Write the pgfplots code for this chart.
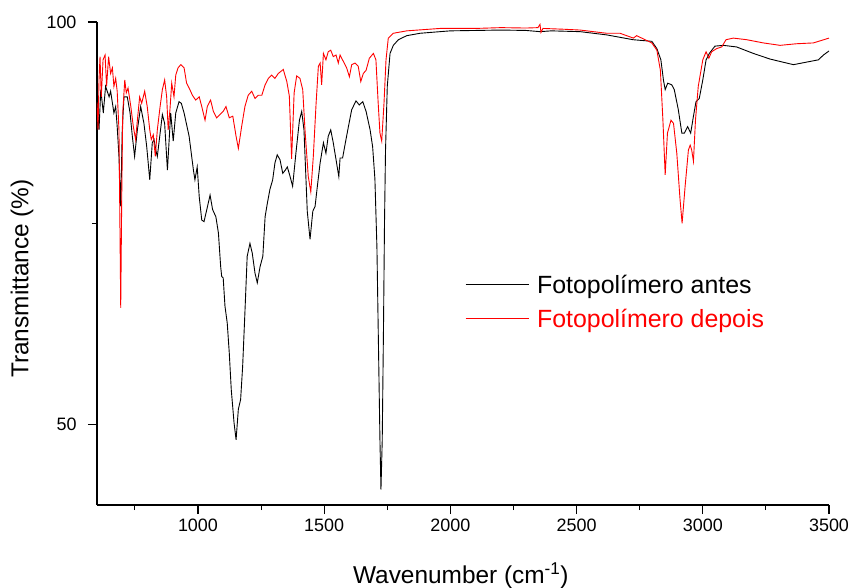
\documentclass[border=0pt]{standalone}
\usepackage{pgfplots}
\pgfplotsset{compat=1.18}
\usepackage{fontspec}
\setmainfont{Liberation Sans}
\begin{document}
\begin{tikzpicture}
\begin{axis}[
  scale only axis, width=732bp, height=483bp,
  xmin=600, xmax=3500, ymin=40, ymax=100,
  axis x line*=bottom, axis y line*=left,
  axis line style={line width=1.2bp},
  xtick={1000,1500,2000,2500,3000,3500},
  minor xtick={750,1250,1750,2250,2750,3250},
  ytick={50,100}, minor ytick={75},
  tick align=outside,
  major tick length=9bp, minor tick length=5bp,
  every tick/.style={line width=1.1bp, black},
  /pgf/number format/assume math mode=true,
  /pgf/number format/1000 sep={},
  tick label style={font=\fontsize{18}{20}\selectfont},
  yticklabel style={xshift=-8bp},
  xticklabel style={yshift=-1bp},
  xlabel={Wavenumber (cm\textsuperscript{-1})},
  ylabel={Transmittance (\%)},
  label style={font=\fontsize{24.5}{28}\selectfont},
  xlabel style={at={(axis description cs:0.497,-0.162)}, anchor=base},
  ylabel style={at={(axis description cs:-0.1025,0.469)}, anchor=center},
  legend style={at={(axis description cs:0.5027,0.481)}, anchor=north west, draw=none, fill=none,
    font=\fontsize{25}{29}\selectfont, row sep=10bp, inner sep=0pt},
  legend cell align=left,
  legend image code/.code={\draw[#1] (0bp,0bp) -- (63bp,0bp);},
]
\addplot[black, line width=0.9bp] coordinates {
(600,84.5)(603,88.7)(608,86.6)(615,91.6)(625,88.7)(634,92.0)(648,90.7)(654,91.4)(667,88.7)(674,89.5)(680,87.0)(687,83.3)(694,77.1)(700,86.6)(707,90.7)(720,90.7)(731,88.7)(740,85.8)(749,83.3)(760,86.6)(773,89.5)(786,87.4)(797,84.5)(809,80.4)(819,85.0)(826,85.4)(833,84.1)(839,83.3)(847,85.4)(859,88.5)(868,87.4)(879,81.6)(892,88.7)(902,85.2)(912,88.7)(925,90.1)(934,89.9)(945,88.7)(965,85.8)(982,81.6)(988,80.4)(997,82.0)(1005,78.3)(1015,75.4)(1024,75.2)(1035,76.7)(1048,78.5)(1058,76.7)(1071,75.8)(1081,73.8)(1090,69.6)(1094,68.4)(1100,68.2)(1107,64.7)(1116,62.6)(1124,58.9)(1132,54.3)(1143,50.2)(1151,48.1)(1160,51.9)(1169,53.1)(1177,57.2)(1186,63.9)(1195,70.9)(1206,72.5)(1215,71.3)(1226,68.8)(1235,67.6)(1246,69.6)(1257,70.9)(1266,75.8)(1275,77.5)(1285,79.2)(1296,80.4)(1305,82.5)(1314,83.5)(1325,82.9)(1336,81.2)(1346,81.6)(1354,82.0)(1365,80.8)(1375,79.6)(1388,83.7)(1402,87.8)(1411,88.9)(1420,86.6)(1428,80.4)(1433,76.5)(1444,73.0)(1455,76.5)(1464,77.1)(1473,79.6)(1484,82.5)(1497,85.0)(1507,83.7)(1516,85.8)(1526,86.6)(1536,85.0)(1547,82.9)(1558,80.8)(1563,83.1)(1573,83.1)(1584,85.0)(1596,87.0)(1609,89.1)(1626,90.2)(1639,89.7)(1653,90.1)(1666,88.9)(1682,86.6)(1692,84.5)(1701,80.5)(1709,72.0)(1715,60.0)(1721,48.0)(1725,41.9)(1730,48.0)(1735,62.0)(1739,75.0)(1743,84.0)(1750,92.0)(1761,96.1)(1774,97.1)(1794,97.8)(1827,98.3)(1880,98.6)(1959,98.8)(2000,98.9)(2100,98.95)(2200,99.0)(2300,98.95)(2355,98.8)(2400,98.9)(2514,98.8)(2619,98.4)(2724,97.8)(2798,97.6)(2818,96.7)(2834,95.3)(2844,92.8)(2851,91.6)(2861,92.4)(2877,92.2)(2887,91.6)(2903,89.1)(2917,86.2)(2927,86.2)(2940,87.0)(2952,86.2)(2963,88.3)(2973,90.1)(2986,90.5)(3000,92.8)(3013,95.3)(3026,96.1)(3048,97.0)(3081,97.1)(3134,96.9)(3200,96.1)(3266,95.4)(3319,95.0)(3359,94.7)(3392,94.9)(3425,95.1)(3458,95.3)(3478,95.9)(3500,96.4)
};
\addlegendentry{\hspace*{6bp}\textcolor{black}{Fotopolímero antes}}
\addplot[red, line width=0.9bp] coordinates {
(600,90.0)(604,86.6)(608,92.8)(612,95.7)(617,90.7)(624,95.3)(632,95.9)(638,92.0)(646,95.7)(654,93.6)(661,94.3)(667,92.0)(674,93.0)(680,91.4)(687,86.6)(691,74.2)(694,64.5)(698,78.3)(702,88.7)(710,92.8)(716,91.2)(723,91.8)(734,89.5)(744,87.0)(753,85.4)(760,87.8)(769,90.7)(777,89.9)(789,91.4)(799,89.5)(809,86.6)(815,85.4)(823,86.0)(831,83.3)(839,86.6)(850,89.5)(859,91.6)(868,92.8)(876,90.7)(882,86.6)(889,89.1)(896,92.4)(905,90.7)(912,93.4)(921,94.3)(932,94.7)(945,94.3)(955,92.4)(965,91.8)(978,90.9)(991,90.3)(1005,90.7)(1015,89.5)(1028,87.8)(1037,89.5)(1050,90.3)(1061,88.9)(1074,88.1)(1087,88.5)(1100,88.9)(1111,89.5)(1124,88.1)(1138,88.3)(1151,85.8)(1160,84.3)(1173,87.0)(1186,89.5)(1199,90.9)(1213,91.4)(1226,90.5)(1239,90.9)(1253,90.9)(1266,92.2)(1279,93.0)(1292,93.4)(1305,93.0)(1318,93.6)(1338,94.1)(1352,92.6)(1362,90.8)(1371,83.0)(1381,91.2)(1391,93.3)(1404,93.0)(1415,91.6)(1424,86.6)(1437,80.8)(1447,78.9)(1457,83.3)(1468,89.9)(1477,94.5)(1484,94.9)(1490,92.2)(1497,96.1)(1507,95.3)(1516,96.3)(1526,96.5)(1536,95.7)(1547,95.9)(1556,94.9)(1563,95.9)(1576,95.1)(1589,94.3)(1600,93.2)(1609,94.7)(1622,94.9)(1635,94.5)(1645,92.6)(1655,93.6)(1666,94.0)(1679,95.5)(1695,96.1)(1705,95.3)(1714,89.9)(1721,86.2)(1728,85.2)(1737,89.9)(1745,95.3)(1754,98.0)(1774,98.6)(1827,98.9)(1959,99.2)(2000,99.2)(2100,99.2)(2200,99.3)(2300,99.25)(2347,99.3)(2355,99.7)(2359,98.7)(2367,99.2)(2450,99.1)(2514,99.0)(2619,98.6)(2672,98.6)(2725,98.0)(2738,98.3)(2798,97.4)(2818,96.5)(2832,94.0)(2842,87.8)(2851,81.0)(2860,86.2)(2874,87.8)(2884,87.4)(2897,83.7)(2910,77.9)(2918,75.0)(2930,79.6)(2943,84.1)(2950,84.7)(2956,84.1)(2963,82.7)(2971,87.8)(2982,92.0)(3000,95.3)(3013,96.3)(3024,95.5)(3035,96.3)(3055,96.7)(3075,96.9)(3092,97.8)(3121,98.0)(3174,97.8)(3240,97.4)(3306,97.1)(3372,97.3)(3438,97.4)(3500,98.0)
};
\addlegendentry{\hspace*{6bp}\textcolor{red}{Fotopolímero depois}}
\end{axis}
\pgfresetboundingbox
\path ([shift={(-97bp,-83bp)}]current axis.south west) rectangle ([shift={(25bp,22bp)}]current axis.north east);
\end{tikzpicture}
\end{document}
